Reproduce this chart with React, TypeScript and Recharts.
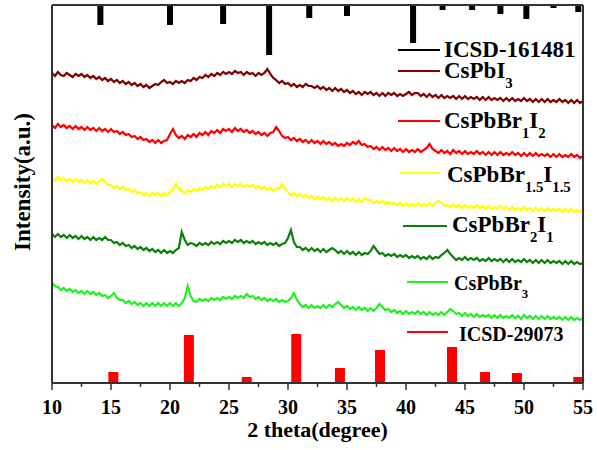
import {
  ComposedChart,
  Line,
  XAxis,
  YAxis,
  ReferenceLine,
  Legend,
} from 'recharts';

const FONT = "'Liberation Serif', 'Times New Roman', serif";

// 2θ sampling grid of the scans (0.25° step)
const twoTheta = Array.from({ length: 181 }, (_, i) => 10 + i * 0.25);

// scan intensities (a.u.)
const cspbi3 = [
  310, 307, 311, 308, 307, 310, 308, 306, 309, 307, 309, 306, 308, 305, 307, 304, 306, 303, 305, 302,
  304, 301, 303, 300, 302, 299, 301, 298, 300, 297, 299, 296, 298, 295, 297, 299, 298, 301, 303, 300,
  301, 299, 302, 300, 302, 300, 303, 302, 305, 303, 306, 305, 308, 306, 309, 307, 310, 308, 311, 309,
  311, 309, 312, 310, 311, 308, 311, 309, 310, 307, 310, 308, 310, 314, 309, 305, 303, 300, 302, 299,
  300, 297, 299, 296, 298, 296, 299, 297, 297, 295, 297, 294, 296, 293, 295, 292, 295, 292, 294, 291,
  293, 290, 292, 289, 291, 288, 291, 289, 291, 288, 290, 287, 290, 287, 290, 288, 290, 287, 289, 287,
  289, 291, 288, 290, 290, 287, 289, 286, 289, 286, 288, 285, 288, 285, 287, 285, 287, 284, 287, 284,
  287, 284, 286, 284, 286, 283, 286, 283, 286, 283, 285, 283, 285, 282, 285, 282, 285, 282, 284, 282,
  285, 282, 284, 281, 284, 281, 284, 281, 284, 281, 283, 281, 284, 281, 283, 280, 283, 280, 283, 280,
  282,
];
const cspbbr1i2 = [
  258, 255, 259, 256, 258, 255, 257, 254, 257, 254, 256, 253, 256, 253, 255, 252, 255, 252, 254, 251,
  254, 251, 252, 249, 251, 248, 249, 246, 247, 244, 246, 243, 244, 241, 243, 240, 243, 240, 242, 243,
  249, 254, 248, 245, 247, 244, 248, 246, 249, 246, 250, 248, 251, 248, 252, 250, 253, 250, 254, 252,
  254, 251, 255, 252, 254, 251, 253, 250, 252, 249, 251, 248, 250, 247, 250, 251, 256, 252, 247, 245,
  246, 243, 245, 242, 244, 241, 243, 240, 243, 240, 242, 239, 242, 239, 241, 238, 240, 237, 239, 237,
  240, 238, 241, 239, 242, 238, 239, 236, 237, 234, 236, 233, 236, 233, 235, 232, 235, 232, 234, 231,
  234, 231, 233, 231, 234, 231, 233, 235, 239, 234, 232, 230, 233, 230, 232, 229, 233, 230, 232, 229,
  232, 229, 231, 229, 232, 229, 231, 228, 231, 228, 231, 228, 231, 228, 230, 228, 231, 228, 230, 227,
  230, 227, 230, 227, 230, 227, 229, 227, 229, 226, 229, 226, 229, 226, 228, 226, 229, 226, 228, 225,
  227,
];
const cspbbr15i15 = [
  205, 202, 206, 203, 205, 202, 204, 201, 204, 201, 203, 200, 203, 200, 202, 199, 202, 204, 201, 198,
  198, 195, 197, 194, 196, 193, 194, 191, 193, 190, 191, 188, 190, 187, 190, 188, 190, 187, 190, 188,
  191, 194, 199, 195, 192, 190, 193, 191, 194, 192, 195, 193, 196, 194, 197, 195, 198, 196, 199, 197,
  199, 196, 199, 197, 199, 196, 198, 196, 198, 195, 197, 194, 196, 193, 195, 192, 195, 194, 199, 194,
  191, 188, 190, 187, 189, 186, 188, 185, 187, 184, 186, 184, 186, 183, 185, 182, 185, 182, 185, 182,
  185, 182, 184, 181, 184, 181, 185, 183, 183, 180, 182, 180, 182, 179, 181, 179, 180, 178, 180, 177,
  180, 177, 179, 177, 180, 177, 179, 177, 180, 177, 180, 182, 180, 177, 178, 176, 179, 176, 178, 175,
  178, 175, 177, 175, 178, 175, 177, 174, 177, 174, 176, 174, 177, 174, 176, 173, 176, 173, 175, 173,
  176, 173, 175, 172, 175, 172, 175, 172, 175, 172, 174, 172, 174, 171, 174, 171, 174, 171, 173, 171,
  173,
];
const cspbbr2i1 = [
  149, 146, 149, 146, 148, 145, 148, 145, 147, 144, 147, 144, 146, 143, 146, 143, 145, 143, 146, 143,
  143, 140, 141, 138, 140, 137, 138, 135, 137, 134, 136, 133, 135, 132, 134, 131, 133, 130, 133, 130,
  132, 130, 133, 135, 151, 143, 138, 140, 139, 137, 140, 138, 140, 138, 141, 139, 141, 139, 142, 140,
  142, 140, 143, 141, 143, 140, 142, 140, 142, 139, 141, 139, 141, 138, 140, 138, 140, 137, 139, 140,
  145, 153, 141, 136, 136, 133, 135, 132, 135, 132, 134, 131, 134, 131, 133, 135, 133, 130, 132, 129,
  132, 129, 131, 128, 131, 128, 130, 129, 132, 137, 133, 129, 130, 127, 129, 127, 129, 126, 128, 126,
  128, 125, 127, 125, 127, 124, 126, 124, 127, 124, 126, 125, 128, 130, 133, 129, 126, 123, 125, 123,
  126, 123, 125, 123, 125, 122, 124, 122, 125, 122, 124, 122, 124, 121, 124, 121, 124, 121, 123, 121,
  124, 121, 123, 120, 123, 120, 123, 120, 123, 120, 122, 120, 122, 119, 122, 119, 122, 119, 121, 119,
  120,
];
const cspbbr3 = [
  100, 97, 96, 93, 95, 92, 94, 91, 93, 90, 92, 89, 92, 89, 91, 88, 90, 87, 88, 85,
  87, 90, 85, 83, 83, 80, 82, 79, 81, 78, 80, 77, 80, 77, 80, 77, 80, 77, 80, 77,
  80, 77, 80, 77, 80, 85, 97, 87, 82, 81, 84, 82, 84, 82, 85, 83, 85, 83, 86, 84,
  86, 84, 87, 85, 87, 85, 89, 86, 87, 84, 86, 83, 85, 82, 84, 82, 84, 81, 83, 81,
  82, 85, 90, 83, 79, 76, 78, 75, 78, 75, 77, 75, 78, 75, 78, 76, 79, 81, 78, 75,
  77, 74, 76, 73, 76, 73, 75, 72, 75, 72, 75, 79, 76, 73, 74, 71, 73, 70, 72, 69,
  72, 69, 71, 69, 72, 69, 71, 68, 71, 68, 70, 68, 71, 68, 71, 74, 72, 69, 70, 67,
  70, 67, 69, 66, 69, 66, 68, 66, 68, 65, 68, 65, 68, 65, 67, 65, 68, 65, 67, 64,
  68, 65, 67, 64, 67, 64, 67, 64, 67, 64, 66, 64, 66, 63, 66, 63, 66, 63, 65, 63,
  65,
];

// reference patterns: peak positions (2θ) and relative intensities
const icsd161481Pos = [14.1, 20.0, 24.5, 28.4, 31.8, 35.0, 40.6, 43.1, 45.6, 48.0, 50.2, 52.5, 54.6];
const icsd161481Int = [20, 20, 19, 50, 13, 11, 38, 5, 5, 9, 14, 3, 7];
const icsd29073Pos = [15.2, 21.6, 26.5, 30.7, 34.4, 37.8, 43.9, 46.7, 49.4, 54.6];
const icsd29073Int = [11, 48, 6, 49, 15, 33, 36, 11, 10, 6];

const majorTicks = [10, 15, 20, 25, 30, 35, 40, 45, 50, 55];
const minorTicks = [12.5, 17.5, 22.5, 27.5, 32.5, 37.5, 42.5, 47.5, 52.5];
const Y_MAX = 378;

const scans = [
  { key: 'cspbi3', values: cspbi3, color: '#800000' },
  { key: 'cspbbr1i2', values: cspbbr1i2, color: '#ff0000' },
  { key: 'cspbbr15i15', values: cspbbr15i15, color: '#ffff00' },
  { key: 'cspbbr2i1', values: cspbbr2i1, color: '#0b800b' },
  { key: 'cspbbr3', values: cspbbr3, color: '#22f022' },
];

const data = twoTheta.map((x, i) => {
  const row: Record<string, number> = { x };
  scans.forEach((s) => {
    row[s.key] = s.values[i];
  });
  return row;
});

// vertical sticks: base -> tip, then a gap
const sticks = (pos: number[], ints: number[], base: number, dir: number) =>
  pos.flatMap((p, i) => [
    { x: p, y: base },
    { x: p, y: base + dir * ints[i] },
    { x: p, y: null },
  ]);

const topSticks = sticks(icsd161481Pos, icsd161481Int, Y_MAX, -1);
const bottomSticks = sticks(icsd29073Pos, icsd29073Int, 0, 1);

type Part = { t: string; sub?: boolean };
const legendRows: { parts: Part[]; color: string; lx: number[]; ly: number; tx: number; ty: number; fs: number }[] = [
  { parts: [{ t: 'ICSD-161481' }], color: '#000000', lx: [398, 440], ly: 50, tx: 444, ty: 57, fs: 23 },
  { parts: [{ t: 'CsPbI' }, { t: '3', sub: true }], color: '#800000', lx: [398, 440], ly: 71, tx: 444, ty: 78, fs: 23 },
  { parts: [{ t: 'CsPbBr' }, { t: '1', sub: true }, { t: 'I' }, { t: '2', sub: true }], color: '#ff0000', lx: [398, 440], ly: 121, tx: 444, ty: 128, fs: 23 },
  { parts: [{ t: 'CsPbBr' }, { t: '1.5', sub: true }, { t: 'I' }, { t: '1.5', sub: true }], color: '#ffff00', lx: [400, 440], ly: 173, tx: 447, ty: 182, fs: 23 },
  { parts: [{ t: 'CsPbBr' }, { t: '2', sub: true }, { t: 'I' }, { t: '1', sub: true }], color: '#0b800b', lx: [403, 447], ly: 226, tx: 452, ty: 232, fs: 23 },
  { parts: [{ t: 'CsPbBr' }, { t: '3', sub: true }], color: '#22f022', lx: [407, 448], ly: 282, tx: 454, ty: 290, fs: 20 },
  { parts: [{ t: 'ICSD-29073' }], color: '#ff0000', lx: [407, 448], ly: 332, tx: 459, ty: 341, fs: 20 },
];

function LegendOverlay() {
  return (
    <svg width={597} height={450} style={{ position: 'absolute', left: 0, top: 0 }}>
      {legendRows.map((r, i) => {
        const shift = Math.round(r.fs * 0.42);
        let cur = 0;
        return (
          <g key={i}>
            <line x1={r.lx[0]} x2={r.lx[1]} y1={r.ly} y2={r.ly} stroke={r.color} strokeWidth={2} />
            <text x={r.tx} y={r.ty} fontFamily={FONT} fontWeight="bold" fontSize={r.fs} fill="#000">
              {r.parts.map((p, j) => {
                const target = p.sub ? shift : 0;
                const dy = target - cur;
                cur = target;
                return (
                  <tspan key={j} dy={dy} fontSize={p.sub ? r.fs * 0.64 : r.fs}>
                    {p.t}
                  </tspan>
                );
              })}
            </text>
          </g>
        );
      })}
    </svg>
  );
}

function AngleTick(props: any) {
  const { x, y, payload } = props;
  const major = majorTicks.includes(payload.value);
  return (
    <g>
      <line x1={x} x2={x} y1={y} y2={y + (major ? 7 : 4)} stroke="#333" strokeWidth={1.5} />
      {major && (
        <text x={x} y={y + 31} textAnchor="middle" fontFamily={FONT} fontWeight="bold" fontSize={20} fill="#000">
          {payload.value}
        </text>
      )}
    </g>
  );
}

export default function App() {
  return (
    <div style={{ position: 'absolute', left: 0, top: 0, width: 597, height: 450, background: '#fff' }}>
      <ComposedChart width={597} height={450} data={data} margin={{ top: 5, right: 14, bottom: 0, left: 0 }}>
        <XAxis
          dataKey="x"
          type="number"
          domain={[10, 55]}
          allowDataOverflow
          ticks={[...majorTicks, ...minorTicks].sort((a, b) => a - b)}
          interval={0}
          height={67}
          tickSize={0}
          tickMargin={0}
          tickLine={false}
          tick={<AngleTick />}
          axisLine={{ stroke: '#333', strokeWidth: 2 }}
          label={{
            content: (p: any) => (
              <text
                x={p.viewBox.x + p.viewBox.width / 2}
                y={p.viewBox.y + 54}
                textAnchor="middle"
                fontFamily={FONT}
                fontWeight="bold"
                fontSize={22}
                fill="#000"
              >
                2 theta(degree)
              </text>
            ),
          }}
        />
        <YAxis
          type="number"
          domain={[0, Y_MAX]}
          allowDataOverflow
          width={52}
          tick={false}
          tickLine={false}
          axisLine={{ stroke: '#333', strokeWidth: 2 }}
          label={{
            content: (p: any) => {
              const cx = p.viewBox.x + 30;
              const cy = p.viewBox.y + p.viewBox.height / 2 - 12;
              return (
                <text
                  x={cx}
                  y={cy}
                  transform={`rotate(-90 ${cx} ${cy})`}
                  textAnchor="middle"
                  fontFamily={FONT}
                  fontWeight="bold"
                  fontSize={23}
                  fill="#000"
                >
                  Intensity(a.u.)
                </text>
              );
            },
          }}
        />
        <Line
          data={topSticks}
          dataKey="y"
          stroke="#000"
          strokeWidth={6}
          dot={false}
          activeDot={false}
          connectNulls={false}
          isAnimationActive={false}
          legendType="none"
        />
        <Line
          data={bottomSticks}
          dataKey="y"
          stroke="#ff0000"
          strokeWidth={10}
          dot={false}
          activeDot={false}
          connectNulls={false}
          isAnimationActive={false}
          legendType="none"
        />
        {scans.map((s) => (
          <Line
            key={s.key}
            dataKey={s.key}
            type="linear"
            stroke={s.color}
            strokeWidth={2.2}
            dot={false}
            activeDot={false}
            isAnimationActive={false}
            legendType="none"
          />
        ))}
        <ReferenceLine y={Y_MAX} stroke="#333" strokeWidth={2} />
        <ReferenceLine x={55} stroke="#333" strokeWidth={2} />
        <Legend
          layout="horizontal"
          verticalAlign="middle"
          align="center"
          content={() => <LegendOverlay />}
          wrapperStyle={{ position: 'absolute', left: 0, top: 0, width: 597, height: 450, pointerEvents: 'none' }}
        />
      </ComposedChart>
    </div>
  );
}
